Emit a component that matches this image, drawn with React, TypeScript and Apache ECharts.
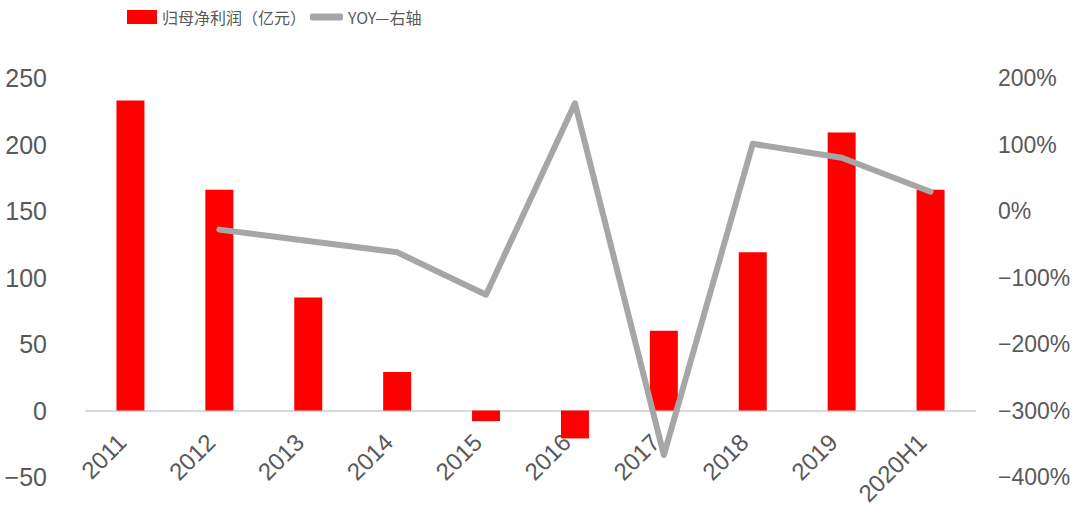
import React, { useEffect, useRef } from "react";
import * as echarts from "echarts";

const categories = ["2011", "2012", "2013", "2014", "2015", "2016", "2017", "2018", "2019", "2020H1"];
const profit = [233, 166, 85, 29, -8, -21, 60, 119, 209, 166];
const yoy: (number | null)[] = [null, -28, -45, -62, -126, 162, -367, 101, 80, 29];
const leftTicks = { min: -50, max: 250, interval: 50 };
const rightTicks = { min: -400, max: 200, interval: 100 };

const barName = "归母净利润（亿元）";
const lineName = "YOY—右轴";

const minus = (s: string) => s.replace("-", "−");

const GRID_TOP = 78;
const GRID_BOTTOM = 31;
const CHART_H = 508;

export default function App() {
  const ref = useRef<HTMLDivElement>(null);
  useEffect(() => {
    document.body.style.margin = "0";
    const chart = echarts.init(ref.current!, undefined, { renderer: "svg" });
    const axisText = { color: "#595959", fontFamily: "Liberation Sans, Arial, sans-serif" };
    const plotH = CHART_H - GRID_TOP - GRID_BOTTOM;
    // distance of the left axis's zero above the grid bottom
    const zeroOffset = (plotH * (0 - leftTicks.min)) / (leftTicks.max - leftTicks.min);
    chart.setOption({
      animation: false,
      backgroundColor: "#ffffff",
      legend: [
        {
          data: [{ name: barName, icon: "rect" }],
          left: 122,
          top: 4,
          itemWidth: 30,
          itemHeight: 14,
          textStyle: { color: "#595959", fontSize: 16, fontFamily: "Noto Sans CJK SC" },
        },
        {
          data: [{ name: lineName, icon: "roundRect", itemStyle: { color: "#A6A6A6" } }],
          left: 305,
          top: 4,
          itemWidth: 33,
          itemHeight: 7,
          textStyle: { color: "#595959", fontSize: 16, fontFamily: "Noto Sans CJK SC" },
        },
      ],
      grid: { left: 86, right: 105, top: GRID_TOP, bottom: GRID_BOTTOM, containLabel: false, outerBoundsMode: "none" },
      xAxis: {
        type: "category",
        data: categories,
        offset: -zeroOffset,
        axisLine: { onZero: false, lineStyle: { color: "#D9D9D9", width: 2 } },
        axisTick: { show: false },
        axisLabel: {
          ...axisText,
          fontSize: 24,
          rotate: 45,
          margin: 36,
          interval: 0,
          verticalAlign: "bottom",
        },
      },
      yAxis: [
        {
          type: "value",
          ...leftTicks,
          position: "left",
          axisLine: { show: false },
          axisTick: { show: false },
          splitLine: { show: false },
          axisLabel: { ...axisText, fontSize: 25, margin: 39, formatter: (v: number) => minus(String(v)) },
        },
        {
          type: "value",
          ...rightTicks,
          position: "right",
          axisLine: { show: false },
          axisTick: { show: false },
          splitLine: { show: false },
          axisLabel: { ...axisText, fontSize: 23, margin: 23, formatter: (v: number) => minus(v + "%") },
        },
      ],
      series: [
        {
          name: barName,
          type: "bar",
          yAxisIndex: 0,
          data: profit,
          barWidth: 28,
          itemStyle: { color: "#FF0000" },
        },
        {
          name: lineName,
          type: "line",
          yAxisIndex: 1,
          data: yoy,
          symbol: "none",
          connectNulls: false,
          z: 3,
          itemStyle: { color: "#A6A6A6" },
          lineStyle: { color: "#A6A6A6", width: 6, cap: "round", join: "round" },
        },
      ],
    });
    return () => chart.dispose();
  }, []);
  return <div ref={ref} style={{ width: 1080, height: CHART_H }} />;
}
